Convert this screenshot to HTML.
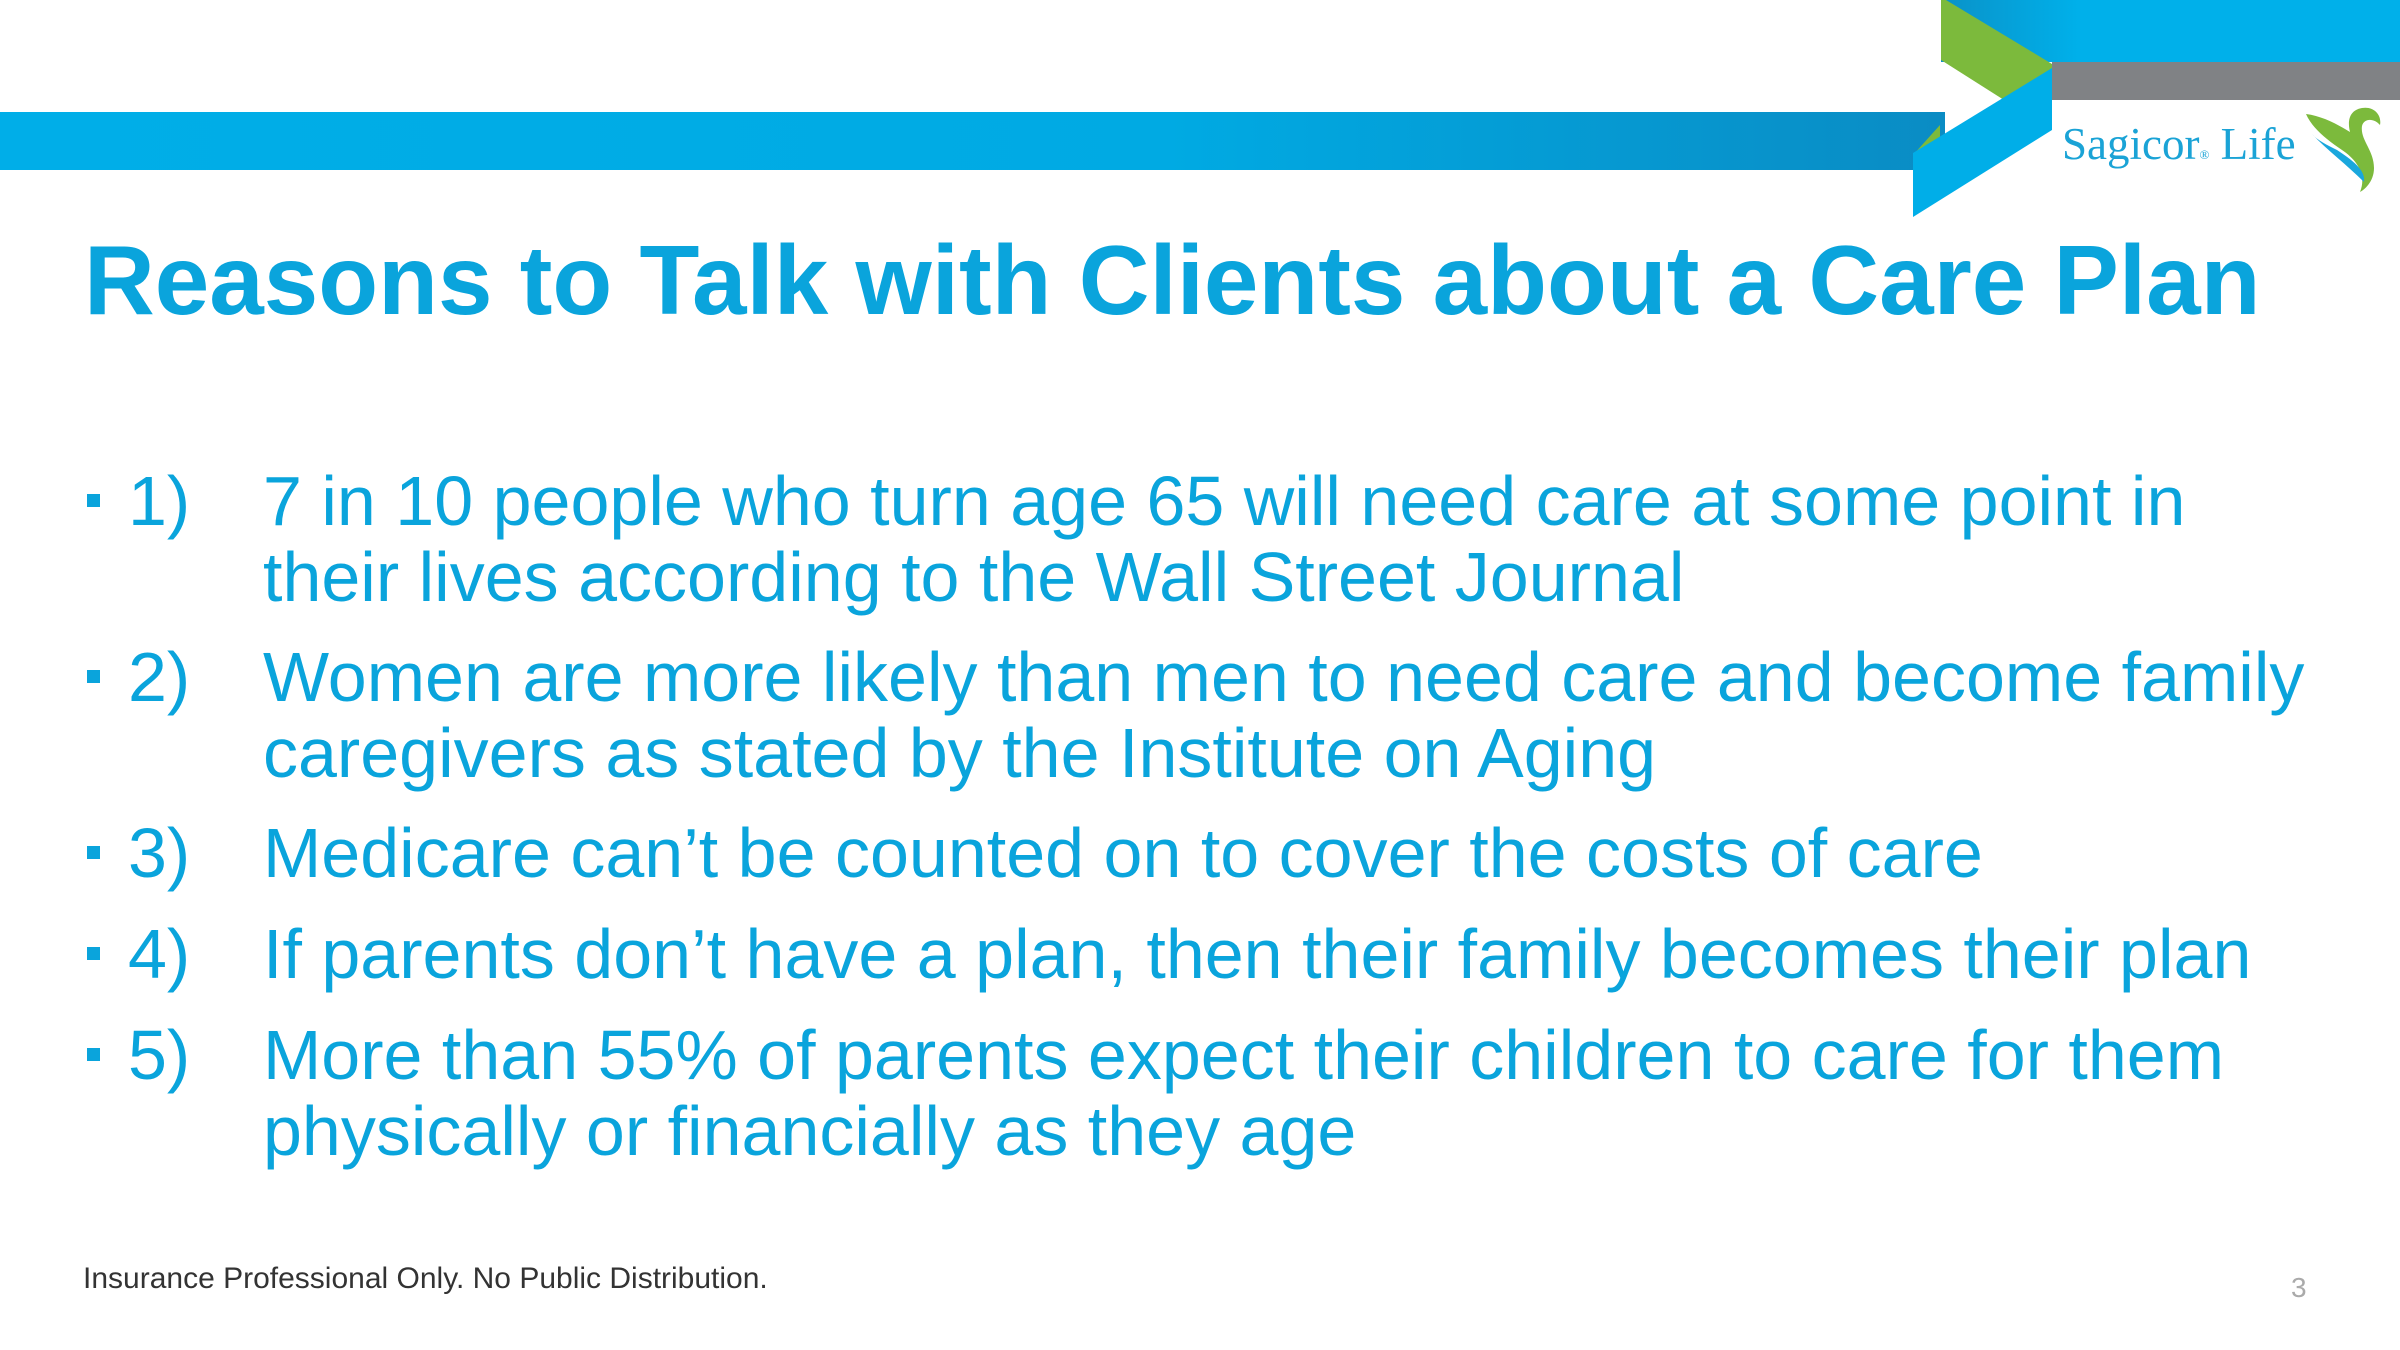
<!DOCTYPE html>
<html><head><meta charset="utf-8"><style>
html,body{margin:0;padding:0}
body{width:2400px;height:1350px;position:relative;overflow:hidden;background:#fff;font-family:"Liberation Sans",Arial,sans-serif}
.t{position:absolute;white-space:nowrap;color:#0aa4dc}
.b{font-size:70px;line-height:68px}
.sq{position:absolute;left:87px;width:13px;height:13px;background:#0aa4dc}
</style></head><body>
<svg width="2400" height="1350" style="position:absolute;left:0;top:0">
<defs>
<linearGradient id="bar" x1="0" x2="1" y1="0" y2="0">
<stop offset="0" stop-color="#00aee8"/><stop offset="0.6" stop-color="#00aae3"/><stop offset="1" stop-color="#0a8cc4"/></linearGradient>
<linearGradient id="top" x1="0" x2="1"><stop offset="0" stop-color="#0a92c8"/><stop offset="0.3" stop-color="#00b0ea"/><stop offset="1" stop-color="#00b0ea"/></linearGradient>
</defs>
<rect x="0" y="112" width="1945" height="58" fill="url(#bar)"/>
<rect x="1941" y="0" width="459" height="62" fill="url(#top)"/>
<rect x="2052" y="62" width="348" height="38" fill="#808285"/>
<polygon points="1941,0 1946,0 2052,64 2052,70 2004,100 1941,60" fill="#7cba3c"/>
<polygon points="1913,155 1940,125 1940,145" fill="#7cba3c"/>
<polygon points="2052,68 2052,130 1913,217 1913,153" fill="#00aee8"/>
<path d="M2306,114 C2322,116 2337,124 2350,132 C2347,120 2350,110 2362,108 C2374,106 2382,115 2380,125 C2374,118 2364,118 2362,126 C2360,140 2374,150 2374,168 C2374,182 2364,190 2360,192 C2367,175 2357,160 2342,150 C2327,140 2312,128 2306,114 Z" fill="#7cba3c"/>
<path d="M2312,134 C2327,150 2347,165 2364,182 C2366,170 2352,160 2337,150 C2327,145 2317,140 2312,134 Z" fill="#1aa7dd"/>
</svg>
<div class="t" style="left:2062px;top:122px;font-family:'Liberation Serif',serif;font-size:45px;line-height:45px;color:#1aa3d6">Sagicor<span style="font-size:13px">®</span> Life</div>
<div class="t" style="left:84px;top:229px;font-size:98px;line-height:103px;font-weight:bold">Reasons to Talk with Clients about a Care Plan</div>

<div class="sq" style="top:494px"></div><div class="t b" style="left:128px;top:467px">1)</div>
<div class="t b" style="left:263px;top:467px">7 in 10 people who turn age 65 will need care at some point in</div>
<div class="t b" style="left:263px;top:543px">their lives according to the Wall Street Journal</div>

<div class="sq" style="top:670px"></div><div class="t b" style="left:128px;top:643px">2)</div>
<div class="t b" style="left:263px;top:643px">Women are more likely than men to need care and become family</div>
<div class="t b" style="left:263px;top:719px">caregivers as stated by the Institute on Aging</div>

<div class="sq" style="top:846px"></div><div class="t b" style="left:128px;top:819px">3)</div>
<div class="t b" style="left:263px;top:819px">Medicare can’t be counted on to cover the costs of care</div>

<div class="sq" style="top:947px"></div><div class="t b" style="left:128px;top:920px">4)</div>
<div class="t b" style="left:263px;top:920px">If parents don’t have a plan, then their family becomes their plan</div>

<div class="sq" style="top:1048px"></div><div class="t b" style="left:128px;top:1021px">5)</div>
<div class="t b" style="left:263px;top:1021px">More than 55% of parents expect their children to care for them</div>
<div class="t b" style="left:263px;top:1097px">physically or financially as they age</div>

<div class="t" style="left:83px;top:1264px;font-size:30px;line-height:29px;color:#333">Insurance Professional Only. No Public Distribution.</div>
<div class="t" style="left:2291px;top:1274px;font-size:28px;line-height:28px;color:#aaa">3</div>
</body></html>
